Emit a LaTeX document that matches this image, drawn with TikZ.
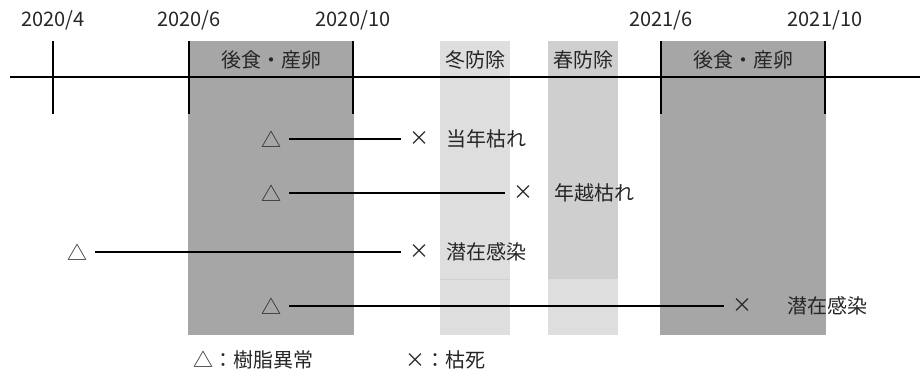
\documentclass[tikz,border=0pt]{standalone}
\usepackage{fontspec}
\setmainfont{Noto Sans CJK JP}
\definecolor{darkbox}{HTML}{A6A6A6}
\definecolor{lightbox}{HTML}{DEDEDE}
\definecolor{midbox}{HTML}{D0CFD0}
\definecolor{txt}{HTML}{262626}
\begin{document}
\begin{tikzpicture}[x=1bp,y=-1bp,
  every node/.style={font=\fontsize{20bp}{24bp}\selectfont, text=txt, inner sep=0pt},
  mark/.style={},
  sym/.style={text width=20bp, align=center, outer xsep=8bp},
  axis/.style={line width=2.3bp, black},
  tick/.style={line width=2.3bp, black},
  conn/.style={line width=1.3bp, black}]
\useasboundingbox (0,0) rectangle (920,374);
% period boxes
\fill[darkbox] (188,41) rectangle (354,335);
\fill[darkbox] (660,41) rectangle (826,335);
\fill[lightbox] (440,41) rectangle (510,335);
\draw[line width=0.4bp, black!18] (440,279) -- (510,279);
\fill[midbox] (548,41) rectangle (618,279);
\fill[lightbox] (548,279) rectangle (618,335);
% box labels
\node (b1) at (271,60) {後食・産卵};
\node (b2) at (743,60) {後食・産卵};
\node (w1) at (475,60) {冬防除};
\node (s1) at (583,60) {春防除};
% axis
\draw[axis] (10,77) -- (920,77);
\foreach \x/\lab/\nm in {53/2020\slash 4/d1,189/2020\slash 6/d2,353/2020\slash 10/d3,661/2021\slash 6/d4,825/2021\slash 10/d5}{
  \draw[tick] (\x,41) -- (\x,114);
  \node (\nm) at (\x,20) {\lab};
}
% rows
\node[sym] (t1) at (271,139) {△};
\node[sym] (c1) at (419,139) {×};
\draw[conn] (t1) -- (c1);
\node[anchor=west] (l1) at (446,139) {当年枯れ};
\node[sym] (t2) at (271,193) {△};
\node[sym] (c2) at (523,193) {×};
\draw[conn] (t2) -- (c2);
\node (l2) at (594,193) {年越枯れ};
\node[sym] (t3) at (77,252) {△};
\node[sym] (c3) at (419,252) {×};
\draw[conn] (t3) -- (c3);
\node[anchor=west] (l3) at (446,252) {潜在感染};
\node[sym] (t4) at (271,306) {△};
\node[sym] (c4) at (742,306) {×};
\draw[conn] (t4) -- (c4);
\node (l4) at (827,306) {潜在感染};
% legend
\node[anchor=west] (g1) at (193,360) {△：樹脂異常};
\node[anchor=west] (g2) at (405,360) {×：枯死};
\end{tikzpicture}
\end{document}
